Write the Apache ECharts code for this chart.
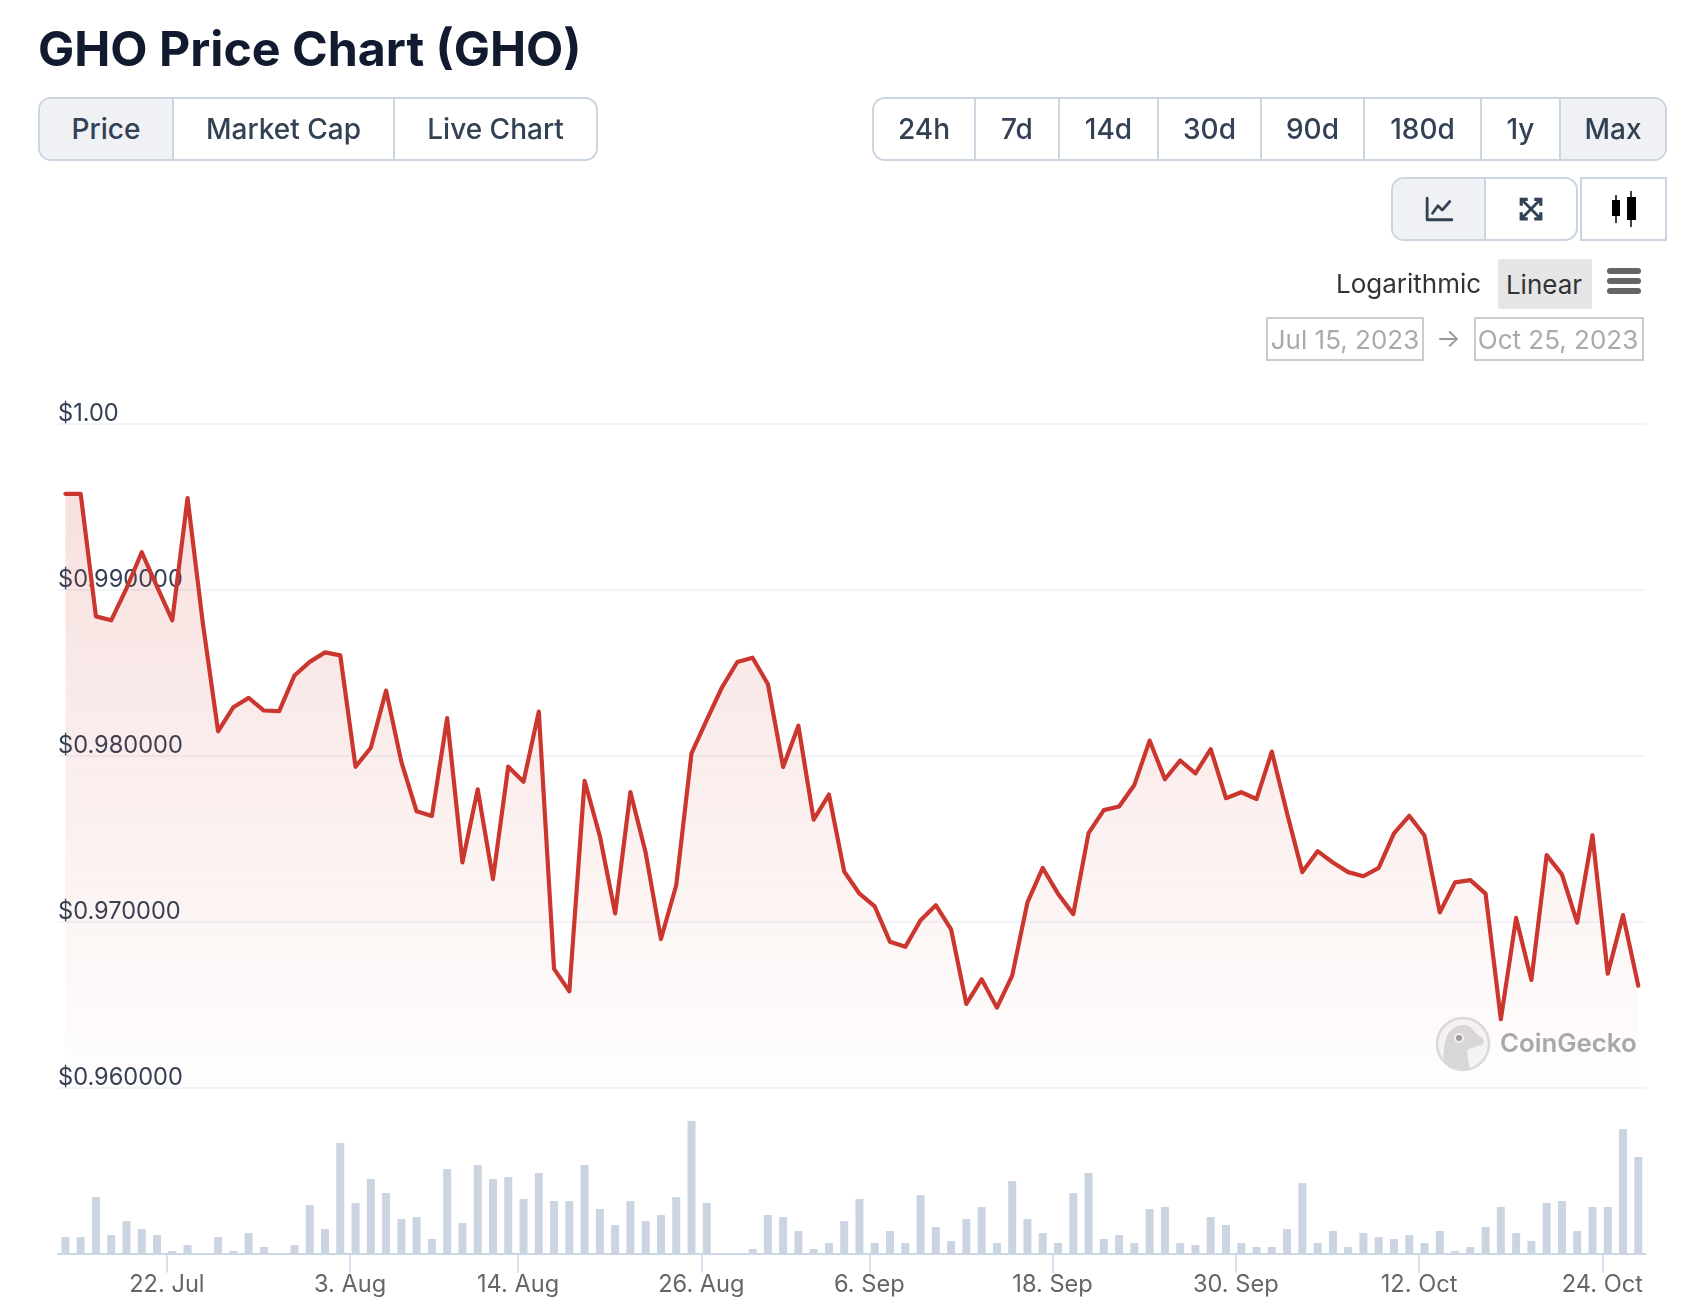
<!DOCTYPE html>
<html>
<head>
<meta charset="utf-8">
<title>GHO Price Chart (GHO)</title>
<script src="https://cdn.jsdelivr.net/npm/echarts@6/dist/echarts.min.js"></script>
<style>
    html, body { margin: 0; padding: 0; background: #fff; }
    body { position: relative; width: 1682px; height: 1314px; overflow: hidden; font-family: Inter, "Noto Sans", sans-serif; }
    #chart { position: absolute; left: 0; top: 0; width: 1682px; height: 1314px; }
    .abs { position: absolute; box-sizing: border-box; }
    h1 { position: absolute; left: 38px; top: 20px; margin: 0; font-size: 48.3px; line-height: 58px; font-weight: 700; color: #111a2e; white-space: nowrap; }
    .group { position: absolute; box-sizing: border-box; top: 97px; height: 64px; border: 2px solid #cbd5e1; border-radius: 13px; overflow: hidden; background: #fff; }
    .btn { position: absolute; top: 0; bottom: 0; box-sizing: border-box; display: flex; align-items: center; justify-content: center; font-size: 28px; font-weight: 500; color: #334155; border-right: 2px solid #cbd5e1; }
    .btn.last { border-right: 0; }
    .btn.on { background: #eff1f5; }
    .scale { font-size: 26px; color: #333; white-space: nowrap; }
    .date { border: 2px solid #ccc; font-size: 26px; color: #aaa; display: flex; align-items: center; justify-content: center; white-space: nowrap; }
    .bar { position: absolute; left: 1607px; width: 34px; height: 6px; border-radius: 3px; background: #666; }
</style>
</head>
<body>
<div id="chart"></div>
<h1>GHO Price Chart (GHO)</h1>

<div class="group" style="left:38px;width:560px">
    <div class="btn on" style="left:0;width:134px">Price</div>
    <div class="btn" style="left:134px;width:221px">Market Cap</div>
    <div class="btn last" style="left:355px;width:201px">Live Chart</div>
</div>

<div class="group" style="left:872px;width:795px">
    <div class="btn" style="left:0;width:102px">24h</div>
    <div class="btn" style="left:102px;width:84px">7d</div>
    <div class="btn" style="left:186px;width:99px">14d</div>
    <div class="btn" style="left:285px;width:103px">30d</div>
    <div class="btn" style="left:388px;width:103px">90d</div>
    <div class="btn" style="left:491px;width:117px">180d</div>
    <div class="btn" style="left:608px;width:79px">1y</div>
    <div class="btn last on" style="left:687px;width:104px">Max</div>
</div>

<div class="group" style="left:1391px;top:177px;width:187px">
    <div class="btn on" style="left:0;width:93px">
        <svg width="28" height="26" viewBox="0 0 26 24" fill="none" stroke="#334155" stroke-width="2.6" stroke-linecap="round" stroke-linejoin="round"><path d="M2 2V22H25"/><path d="M7 16L12 9L16 13L23 5"/></svg>
    </div>
    <div class="btn last" style="left:93px;width:90px">
        <svg width="26" height="26" viewBox="0 0 24 24" fill="none" stroke="#334155" stroke-width="3"><path d="M3 9V3H9M15 3H21V9M21 15V21H15M9 21H3V15"/><path d="M4 4L20 20M20 4L4 20" stroke-width="2.6"/></svg>
    </div>
</div>
<div class="abs" style="left:1580px;top:177px;width:87px;height:64px;border:2px solid #cbd5e1;display:flex;align-items:center;justify-content:center">
    <svg width="26" height="36" viewBox="0 0 26 36"><path d="M5 4V32M20 0V36" stroke="#000" stroke-width="1.5"/><rect x="1" y="9" width="8" height="16" fill="#000"/><rect x="16" y="6" width="9" height="23" fill="#000"/></svg>
</div>

<div class="abs scale" style="left:1336px;top:268px">Logarithmic</div>
<div class="abs scale" style="left:1498px;top:259px;width:94px;height:50px;background:#e6e6e6;border-radius:2px;padding-right:2px;display:flex;align-items:center;justify-content:center">Linear</div>
<div class="bar" style="top:268px"></div>
<div class="bar" style="top:278px"></div>
<div class="bar" style="top:288px"></div>

<div class="abs date" style="left:1266px;top:317px;width:158px;height:44px">Jul 15, 2023</div>
<div class="abs" style="left:1436px;top:322px;font-size:26px;color:#999">→</div>
<div class="abs date" style="left:1474px;top:317px;width:170px;height:44px;padding-right:2px">Oct 25, 2023</div>

<script>
    // 每日价格
    var prices = [
        0.99578, 0.99578, 0.98840, 0.98816, 0.99009, 0.99226, 0.99019, 0.98816, 0.99552, 0.98798,
        0.98148, 0.98293, 0.98349, 0.98273, 0.98269, 0.98484, 0.98566, 0.98623, 0.98605, 0.97934,
        0.98049, 0.98393, 0.97964, 0.97666, 0.97638, 0.98227, 0.97359, 0.97798, 0.97258, 0.97935,
        0.97844, 0.98266, 0.96717, 0.96582, 0.97850, 0.97516, 0.97051, 0.97782, 0.97416, 0.96897,
        0.97221, 0.98015, 0.98217, 0.98413, 0.98565, 0.98591, 0.98433, 0.97933, 0.98181, 0.97616,
        0.97767, 0.97304, 0.97170, 0.97093, 0.96880, 0.96850, 0.97010, 0.97101, 0.96955, 0.96506,
        0.96655, 0.96484, 0.96677, 0.97118, 0.97325, 0.97170, 0.97047, 0.97535, 0.97673, 0.97695,
        0.97825, 0.98092, 0.97859, 0.97972, 0.97895, 0.98040, 0.97745, 0.97781, 0.97740, 0.98026,
        0.97654, 0.97300, 0.97426, 0.97358, 0.97300, 0.97275, 0.97325, 0.97533, 0.97639, 0.97520,
        0.97057, 0.97238, 0.97252, 0.97170, 0.96414, 0.97024, 0.96651, 0.97402, 0.97286, 0.96996,
        0.97522, 0.96688, 0.97041, 0.96616
    ];
    // 成交量(相对值,图上没有刻度)
    var volumes = [
        50, 50, 170, 56, 98, 74, 56, 8, 26, 0,
        50, 8, 62, 20, 0, 26, 146, 74, 332, 152,
        224, 182, 104, 110, 44, 254, 92, 266, 224, 230,
        164, 242, 158, 158, 266, 134, 86, 158, 98, 116,
        170, 398, 152, 0, 0, 14, 116, 110, 68, 14,
        32, 98, 164, 32, 68, 32, 176, 80, 38, 104,
        140, 32, 218, 104, 62, 32, 182, 242, 44, 56,
        32, 134, 140, 32, 26, 110, 86, 32, 20, 20,
        74, 212, 32, 68, 20, 62, 50, 44, 56, 32,
        68, 8, 20, 80, 140, 62, 38, 152, 158, 68,
        140, 140, 374, 290
    ];
    var tickLabels = ["22. Jul", "3. Aug", "14. Aug", "26. Aug", "6. Sep", "18. Sep", "30. Sep", "12. Oct", "24. Oct"];
    var tickTimes = [
        Date.UTC(2023, 6, 22), Date.UTC(2023, 7, 3), Date.UTC(2023, 7, 14), Date.UTC(2023, 7, 26), Date.UTC(2023, 8, 6),
        Date.UTC(2023, 8, 18), Date.UTC(2023, 8, 30), Date.UTC(2023, 9, 12), Date.UTC(2023, 9, 24)
    ];
    var firstTime = Date.UTC(2023, 6, 15, 8, 31);
    var dayMs = 86400000;
    var axisMin = Date.UTC(2023, 6, 14, 20, 53);
    var axisMax = Date.UTC(2023, 9, 26, 20, 10);

    var lineColor = "#cb372f";

    function withTime(list) {
        var out = [];
        for (var i = 0; i < list.length; i++) {
            out.push([firstTime + i * dayMs, list[i]]);
        }
        return out;
    }

    var chart = echarts.init(document.getElementById("chart"));
    chart.setOption({
        animation: false,
        textStyle: { fontFamily: "Inter" },
        grid: [
            { left: 58, top: 423.7, width: 1587.7, height: 664.3 },
            { left: 58, top: 1120.4, width: 1587.7, height: 133.3 }
        ],
        xAxis: [
            { type: "value", gridIndex: 0, min: axisMin, max: axisMax, show: false },
            {
                type: "value",
                gridIndex: 1,
                min: axisMin,
                max: axisMax,
                splitLine: { show: false },
                axisLine: { lineStyle: { color: "#ccd6eb", width: 2 } },
                axisTick: { customValues: tickTimes, length: 19, lineStyle: { color: "#ccd6eb", width: 1.5 } },
                axisLabel: {
                    customValues: tickTimes,
                    color: "#666",
                    fontSize: 23.6,
                    margin: 19,
                    formatter: function (v) {
                        return tickLabels[tickTimes.indexOf(v)] || "";
                    }
                }
            }
        ],
        yAxis: [
            {
                type: "value",
                gridIndex: 0,
                min: 0.96,
                max: 1,
                interval: 0.01,
                axisLine: { show: false },
                axisTick: { show: false },
                splitLine: { lineStyle: { color: "#f1f4f9", width: 2 } },
                axisLabel: {
                    inside: true,
                    margin: 0,
                    verticalAlign: "bottom",
                    lineHeight: 20,
                    color: "#334155",
                    fontSize: 23.6,
                    formatter: function (v) {
                        return v >= 1 ? "$1.00" : "$" + v.toFixed(6);
                    }
                }
            },
            { type: "value", gridIndex: 1, min: 0, max: 400, show: false }
        ],
        series: [
            {
                name: "Price",
                type: "line",
                xAxisIndex: 0,
                yAxisIndex: 0,
                data: withTime(prices),
                symbol: "none",
                silent: true,
                lineStyle: { color: lineColor, width: 4.2, cap: "round", join: "round" },
                areaStyle: {
                    origin: "start",
                    color: new echarts.graphic.LinearGradient(0, 0, 0, 1, [
                        { offset: 0, color: "rgba(203,55,47,0.22)" },
                        { offset: 1, color: "rgba(203,55,47,0.01)" }
                    ])
                }
            },
            {
                name: "Volume",
                type: "bar",
                xAxisIndex: 1,
                yAxisIndex: 1,
                data: withTime(volumes),
                barWidth: 8,
                silent: true,
                itemStyle: { color: "#cbd5e1" }
            }
        ],
        graphic: [
            {
                type: "group",
                x: 1463,
                y: 1044,
                silent: true,
                children: [
                    { type: "circle", shape: { cx: 0, cy: 0, r: 26 }, style: { fill: "#f6f6f6", stroke: "#dcdcdc", lineWidth: 2.6 } },
                    {
                        type: "polygon",
                        shape: {
                            smooth: 0.3,
                            points: [[-18, 19], [-19, 4], [-15, -10], [-5, -18], [6, -18], [15, -9], [20, -5], [20, 0], [12, 3], [5, 6], [5, 15], [6, 24], [-6, 25]]
                        },
                        style: { fill: "#d9d9d9" }
                    },
                    { type: "circle", shape: { cx: -4, cy: -6, r: 5 }, style: { fill: "#f3f3f3" } },
                    { type: "circle", shape: { cx: -4, cy: -6, r: 3 }, style: { fill: "#9c9c9c" } }
                ]
            },
            {
                type: "text",
                x: 1500,
                y: 1044,
                silent: true,
                style: { text: "CoinGecko", fill: "#a9a9a9", font: "600 25.8px Inter", textVerticalAlign: "middle" }
            }
        ]
    });
</script>
</body>
</html>
